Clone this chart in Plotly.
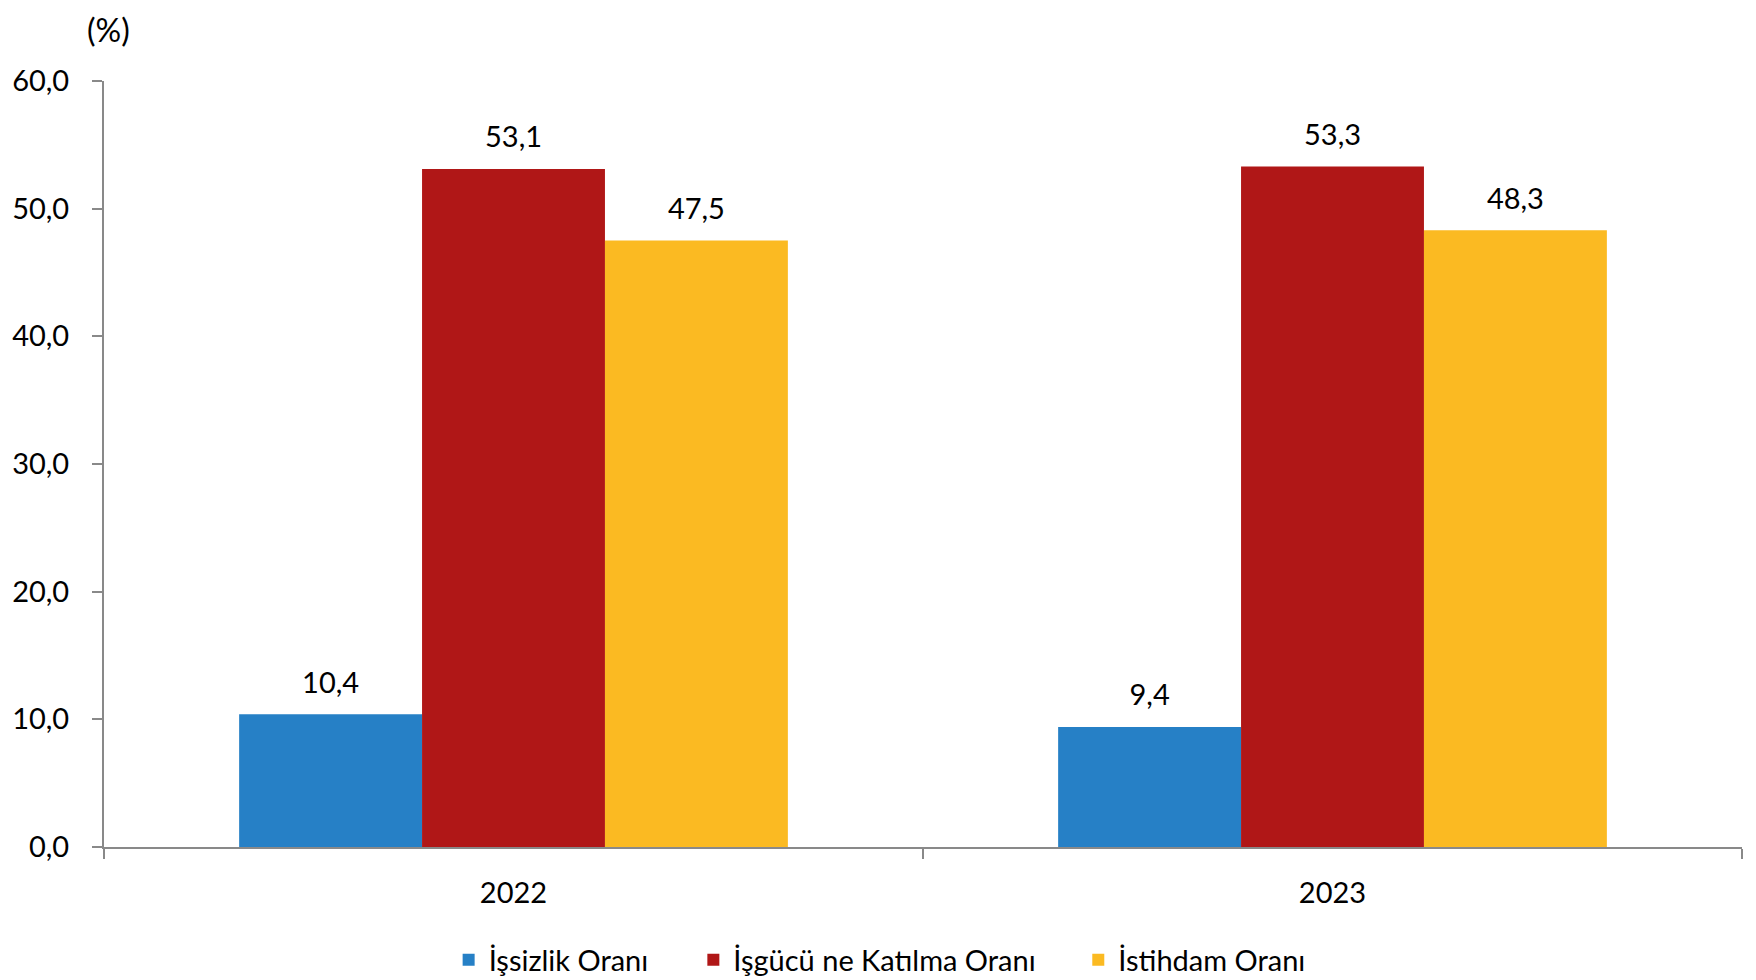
import plotly.graph_objects as go

years = ["2022", "2023"]
issizlik = [10.4, 9.4]
katilma = [53.1, 53.3]
istihdam = [47.5, 48.3]
series_names = ["İşsizlik Oranı", "İşgücü ne Katılma Oranı", "İstihdam Oranı"]
colors = ["#2680C6", "#B01717", "#FBBA22"]
y_ticks = [0, 10, 20, 30, 40, 50, 60]

FONT = "Lato"
FS = 29
legend_ids = ["legend", "legend2", "legend3"]
legend_x = [0.2104, 0.3598, 0.5948]

fig = go.Figure()
for name, vals, col, lg in zip(series_names, [issizlik, katilma, istihdam], colors, legend_ids):
    fig.add_trace(go.Bar(
        x=years, y=vals, name=name, legend=lg,
        marker=dict(color=col, line=dict(width=0)),
        texttemplate="<span style='font-size:%dpx'>%%{y:.1f}</span><br> " % FS,
        textposition="outside",
        constraintext="none",
        textfont=dict(size=12, color="#000", family=FONT),
        cliponaxis=False,
    ))

legend_common = dict(orientation="h", xanchor="left", y=-0.1475, yanchor="middle",
                     font=dict(size=FS, family=FONT), itemwidth=30, bgcolor="rgba(0,0,0,0)")
fig.update_layout(
    width=1740, height=972,
    margin=dict(l=96, r=6, t=73, b=133, autoexpand=False),
    paper_bgcolor="white", plot_bgcolor="white",
    barmode="group", bargap=0.33, bargroupgap=0,
    separators=",.",
    font=dict(family=FONT, size=FS, color="#000"),
    showlegend=True,
    legend=dict(x=legend_x[0], **legend_common),
    legend2=dict(x=legend_x[1], **legend_common),
    legend3=dict(x=legend_x[2], **legend_common),
    annotations=[dict(text="(%)", xref="paper", yref="paper", x=0.003, y=1.0955,
                      xanchor="center", yanchor="top", showarrow=False,
                      font=dict(size=32, family=FONT))],
)
fig.update_yaxes(range=[0, 60], tickvals=y_ticks, tickformat=".1f", automargin=False,
                 showgrid=False, zeroline=False, showline=True, linecolor="#898989",
                 linewidth=2, ticks="outside", ticklen=10, tickcolor="#898989", tickwidth=2,
                 ticklabelstandoff=17, tickfont=dict(size=FS, family=FONT))
fig.update_xaxes(showgrid=False, showline=True, linecolor="#898989", linewidth=2, automargin=False,
                 ticks="outside", tickson="boundaries", ticklen=10, tickcolor="#898989",
                 tickwidth=2, ticklabelstandoff=19, tickfont=dict(size=FS, family=FONT))

fig.write_html("out.html")
